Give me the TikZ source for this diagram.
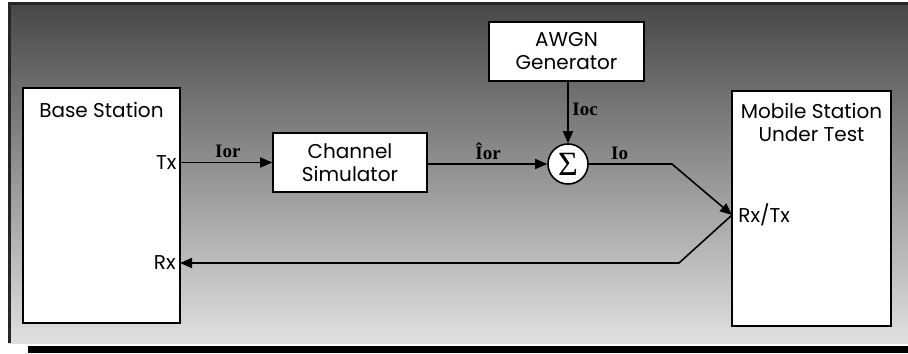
\documentclass[tikz,border=0pt]{standalone}
\usepackage{fontspec}
\setmainfont{Poppins}
\newfontfamily\lblfont{Liberation Serif}
\usetikzlibrary{arrows.meta,positioning,calc}

\begin{document}
\begin{tikzpicture}[
  x=0.5pt, y=-0.5pt,
  every node/.style={font=\fontsize{10}{11.5}\selectfont},
  unit/.style={
    rectangle, draw=black, line width=0.8pt,
    fill=white, inner sep=0pt},
  port/.style={inner sep=1pt},
  sig/.style={font=\lblfont\bfseries\fontsize{9.5}{10}\selectfont, inner sep=1pt},
  wire/.style={line width=0.8pt, -{Triangle[length=6pt,width=5pt]}},
  >=Triangle
]
  %% -- Hintergrund ------------------------------------------
  \useasboundingbox (0,0) rectangle (908,353);
  \shade[top color=black!72, middle color=black!45, bottom color=black!12]
    (8,4) rectangle (908,343);
  \draw[black!85, line width=1.5pt] (9,343) -- (9,4) -- (908,4);
  \fill[black] (28,346) rectangle (908,353);

  %% -- Blöcke -----------------------------------------------
  \node[unit, minimum width=78.5pt, minimum height=117.5pt]
    (BS) at (101.5,205.5) {};
  \node[anchor=north west] (BSt) at ([xshift=5pt,yshift=-4pt]BS.north west)
    {Base Station};

  \node[unit, minimum width=77pt, minimum height=29.5pt,
        align=center] (CS) at (350,162.5)
    {Channel\\Simulator};

  \node[unit, minimum width=77.5pt, minimum height=29.5pt,
        align=center] (AW) at (566.5,51.5)
    {AWGN\\Generator};

  \node[circle, draw=black, line width=0.8pt, fill=white,
        minimum size=20pt, inner sep=0pt,
        font=\lblfont\fontsize{17}{17}\selectfont] (S) at (568,164)
    {Σ};

  \node[unit, minimum width=79.5pt, minimum height=117.5pt]
    (MS) at (811.5,208.5) {};
  \node[below=3pt of MS.north, align=center] (MSt)
    {Mobile Station\\Under Test};

  %% -- Anschlüsse -------------------------------------------
  \coordinate (tx) at (BS.east |- CS.west);
  \coordinate (rx) at (180,263);
  \coordinate (rt) at (732,215);
  \coordinate (ka) at (672,164);
  \coordinate (kb) at (679,263);

  \node[port, anchor=east] at ([xshift=-1pt]tx) {Tx};
  \node[port, anchor=east] at ([xshift=-1pt]rx) {Rx};
  \node[port, anchor=west] at ([xshift=2pt]rt) {Rx/Tx};

  %% -- Signale ----------------------------------------------
  \draw[wire] (tx) -- (CS.west);
  \node[sig, above right=1pt and 16pt of tx] {Ior};

  \draw[wire] (CS.east |- S.west) -- (S.west);
  \node[sig, above left=1pt and 22pt of S.west] {\^Ior};

  \draw[wire] (AW.south -| S.north) -- (S.north);
  \node[sig, right=1pt of $(AW.south -| S.north)!0.45!(S.north)$] {Ioc};

  \draw[wire] (S.east) -- (ka) -- (rt);
  \node[sig, above right=1pt and 10pt of S.east] {Io};

  \draw[wire] (rt) -- (kb) -- (rx);

\end{tikzpicture}
\end{document}
